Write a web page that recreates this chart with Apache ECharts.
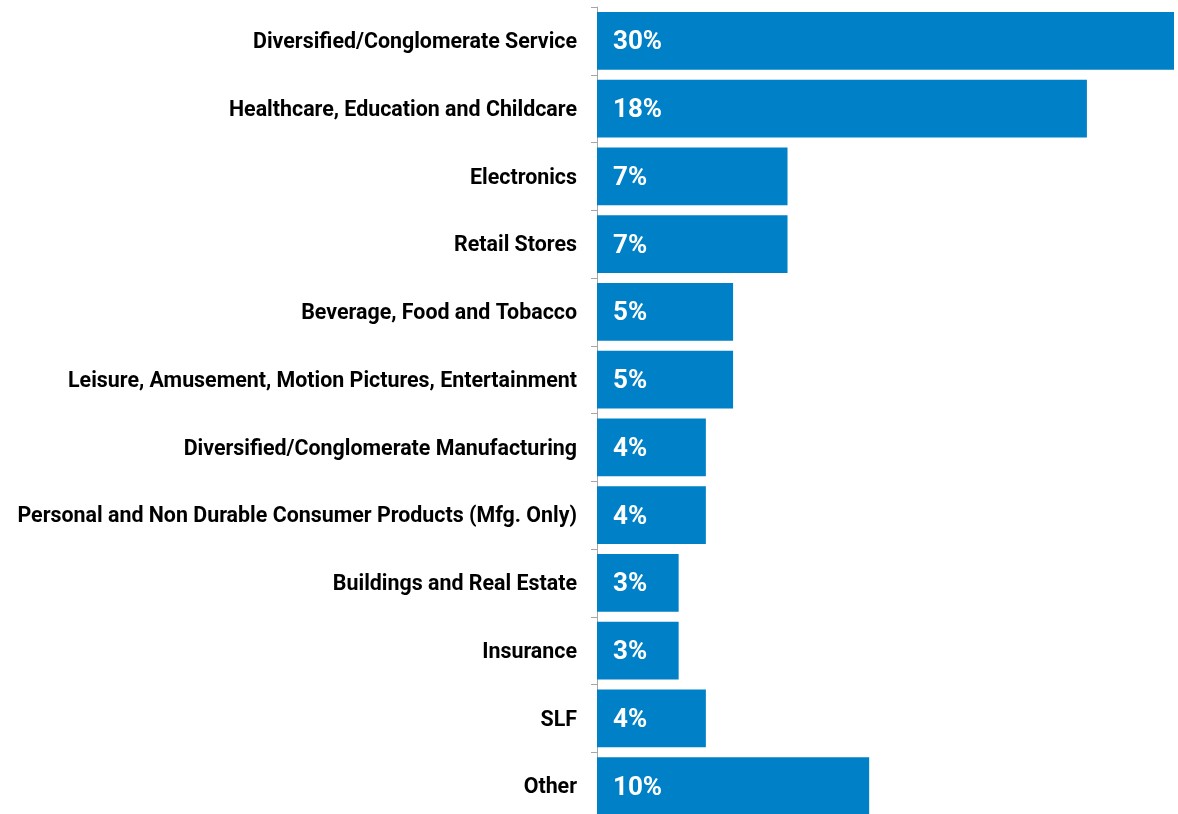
<!DOCTYPE html>
<html><head><meta charset="utf-8">
<script src="https://cdn.jsdelivr.net/npm/echarts@6/dist/echarts.min.js"></script>
<style>html,body{margin:0;padding:0;background:#fff}#c{width:1178px;height:814px}</style>
</head><body><div id="c"></div>
<script>
const categories = [
  "Diversified/Conglomerate Service",
  "Healthcare, Education and Childcare",
  "Electronics",
  "Retail Stores",
  "Beverage, Food and Tobacco",
  "Leisure, Amusement, Motion Pictures, Entertainment",
  "Diversified/Conglomerate Manufacturing",
  "Personal and Non Durable Consumer Products (Mfg. Only)",
  "Buildings and Real Estate",
  "Insurance",
  "SLF",
  "Other"
];
const values = [30, 18, 7, 7, 5, 5, 4, 4, 3, 3, 4, 10];
const axisMax = 21.2;

const chart = echarts.init(document.getElementById('c'), null, {renderer: 'canvas'});
chart.setOption({
  animation: false,
  grid: {left: 597, right: 4, top: 7, bottom: -6, containLabel: false, outerBoundsMode: 'none'},
  xAxis: {type: 'value', min: 0, max: axisMax, show: false},
  yAxis: {
    type: 'category', data: categories, inverse: true,
    axisLine: {show: true, lineStyle: {color: '#a6a6a6', width: 1}},
    axisTick: {show: true, length: 6, lineStyle: {color: '#a6a6a6'}},
    axisLabel: {
      margin: 20,
      formatter: v => '{a|' + v + '}',
      rich: {a: {color: '#000', fontFamily: 'Roboto', fontWeight: 'bold', fontSize: 21.4, padding: [4, 0, 0, 0]}}
    }
  },
  series: [{
    type: 'bar', data: values, clip: true,
    barCategoryGap: '15%',
    itemStyle: {color: '#0080c6'},
    label: {
      show: true, position: 'insideLeft', distance: 16, offset: [0, 2],
      formatter: p => p.value + '%',
      color: '#fff', fontFamily: 'Roboto', fontWeight: 'bold', fontSize: 26
    }
  }]
});
</script></body></html>
